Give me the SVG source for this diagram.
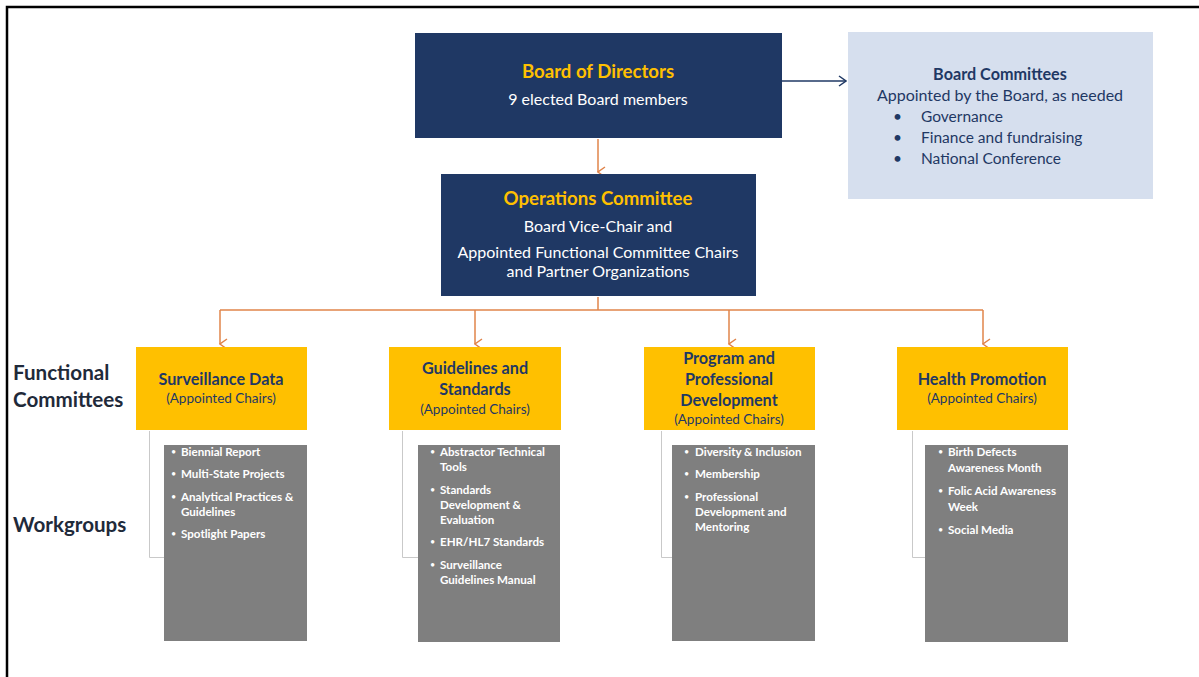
<svg xmlns="http://www.w3.org/2000/svg" width="1199" height="677" viewBox="0 0 1199 677">
<style>
.navy{fill:#1F3864}
.yel{fill:#FFC000}
.gray{fill:#7F7F7F}
.t{font-family:Lato,"Open Sans","Liberation Sans",sans-serif}
.ttl{font-weight:bold;fill:#FFC000;text-anchor:middle}
.wht{fill:#FFFFFF;text-anchor:middle}
.nv{fill:#1F3864}
.cb{font-weight:bold;fill:#1F3864;text-anchor:middle;font-size:16.2px}
.ap{fill:#1F3864;text-anchor:middle;font-size:16px}
.ac{fill:#1F3864;text-anchor:middle;font-size:13.5px}
.wg{fill:#FFFFFF;font-weight:bold;font-size:11.6px}
.bu{font-size:9px;font-weight:normal}
.side{fill:#1F2A3A;font-weight:bold;font-size:20.6px}
.or{stroke:#E0844A;stroke-width:1.5;fill:none}
.br{stroke:#C9C9C9;stroke-width:1;fill:none}
</style>
<defs>
<marker id="ao" markerWidth="12" markerHeight="10" refX="6" refY="9" orient="auto" markerUnits="userSpaceOnUse" viewBox="0 0 12 10">
<path d="M1,2 L6,9 L11,2" fill="none" stroke="#E0844A" stroke-width="1.5"/>
</marker>
<marker id="an" markerWidth="10" markerHeight="12" refX="9" refY="6" orient="auto" markerUnits="userSpaceOnUse" viewBox="0 0 10 12">
<path d="M2,1 L9,6 L2,11" fill="none" stroke="#1F3864" stroke-width="1.5"/>
</marker>
</defs>
<rect width="1199" height="677" fill="#FFFFFF"/>
<path d="M7,677 V7 H1199" fill="none" stroke="#000" stroke-width="2.5"/>

<g id="connectors">
<line class="or" x1="598" y1="139" x2="598" y2="172" marker-end="url(#ao)"/>
<line x1="782" y1="81" x2="846" y2="81" stroke="#1F3864" stroke-width="1.5" marker-end="url(#an)"/>
<line class="or" x1="598" y1="297" x2="598" y2="310"/>
<line class="or" x1="220" y1="310" x2="983" y2="310"/>
<line class="or" x1="220" y1="310" x2="220" y2="344" marker-end="url(#ao)"/>
<line class="or" x1="475" y1="310" x2="475" y2="344" marker-end="url(#ao)"/>
<line class="or" x1="729" y1="310" x2="729" y2="344" marker-end="url(#ao)"/>
<line class="or" x1="983" y1="310" x2="983" y2="344" marker-end="url(#ao)"/>
<path class="br" d="M149.5,431 V557.5 H164"/>
<path class="br" d="M402.5,431 V557.5 H418"/>
<path class="br" d="M661.5,431 V557.5 H672"/>
<path class="br" d="M912.5,431 V557.5 H925"/>
</g>

<g id="board" class="t">
<rect class="navy" x="415" y="33" width="367" height="105"/>
<text class="ttl" x="598" y="78" font-size="18.6">Board of Directors</text>
<text class="wht" x="598" y="105" font-size="16">9 elected Board members</text>
</g>

<g id="board-committees" class="t">
<rect x="848" y="32" width="305" height="167" fill="#D6DFEE"/>
<text class="cb" x="1000" y="80">Board Committees</text>
<text class="ap" x="1000" y="101">Appointed by the Board, as needed</text>
<text class="nv" font-size="15.5"><tspan x="893" y="122">•</tspan><tspan x="921" y="122">Governance</tspan><tspan x="893" y="143">•</tspan><tspan x="921" y="143">Finance and fundraising</tspan><tspan x="893" y="164">•</tspan><tspan x="921" y="164">National Conference</tspan></text>
</g>

<g id="operations" class="t">
<rect class="navy" x="441" y="174" width="315" height="122"/>
<text class="ttl" x="598" y="205" font-size="18.6">Operations Committee</text>
<text class="wht" x="598" y="232" font-size="16">Board Vice-Chair and</text>
<text class="wht" x="598" y="258" font-size="16">Appointed Functional Committee Chairs</text>
<text class="wht" x="598" y="277" font-size="16">and Partner Organizations</text>
</g>

<g id="labels" class="t">
<text class="side" x="13" y="380">Functional</text>
<text class="side" x="13" y="407">Committees</text>
<text class="side" x="13" y="532">Workgroups</text>
</g>

<g id="surveillance" class="t">
<rect class="yel" x="136" y="347" width="171" height="83"/>
<text class="cb" x="221" y="385">Surveillance Data</text>
<text class="ac" x="221" y="403">(Appointed Chairs)</text>
<rect class="gray" x="164" y="445" width="143" height="196"/>
<text class="wg"><tspan class="bu" x="171" y="455">•</tspan><tspan x="181" y="456">Biennial Report</tspan><tspan class="bu" x="171" y="477">•</tspan><tspan x="181" y="478">Multi-State Projects</tspan><tspan class="bu" x="171" y="500">•</tspan><tspan x="181" y="501">Analytical Practices &amp;</tspan><tspan x="181" y="516">Guidelines</tspan><tspan class="bu" x="171" y="537">•</tspan><tspan x="181" y="538">Spotlight Papers</tspan></text>
</g>

<g id="guidelines" class="t">
<rect class="yel" x="389" y="347" width="172" height="83"/>
<text class="cb" x="475" y="374">Guidelines and</text>
<text class="cb" x="475" y="395">Standards</text>
<text class="ac" x="475" y="414">(Appointed Chairs)</text>
<rect class="gray" x="418" y="445" width="142" height="197"/>
<text class="wg"><tspan class="bu" x="430" y="455">•</tspan><tspan x="440" y="456">Abstractor Technical</tspan><tspan x="440" y="471">Tools</tspan><tspan class="bu" x="430" y="493">•</tspan><tspan x="440" y="494">Standards</tspan><tspan x="440" y="509">Development &amp;</tspan><tspan x="440" y="524">Evaluation</tspan><tspan class="bu" x="430" y="545">•</tspan><tspan x="440" y="546">EHR/HL7 Standards</tspan><tspan class="bu" x="430" y="568">•</tspan><tspan x="440" y="569">Surveillance</tspan><tspan x="440" y="584">Guidelines Manual</tspan></text>
</g>

<g id="program" class="t">
<rect class="yel" x="644" y="347" width="171" height="83"/>
<text class="cb" x="729" y="364">Program and</text>
<text class="cb" x="729" y="385">Professional</text>
<text class="cb" x="729" y="406">Development</text>
<text class="ac" x="729" y="424">(Appointed Chairs)</text>
<rect class="gray" x="672" y="445" width="143" height="196"/>
<text class="wg"><tspan class="bu" x="684" y="455">•</tspan><tspan x="695" y="456">Diversity &amp; Inclusion</tspan><tspan class="bu" x="684" y="477">•</tspan><tspan x="695" y="478">Membership</tspan><tspan class="bu" x="684" y="500">•</tspan><tspan x="695" y="501">Professional</tspan><tspan x="695" y="516">Development and</tspan><tspan x="695" y="531">Mentoring</tspan></text>
</g>

<g id="health" class="t">
<rect class="yel" x="897" y="347" width="171" height="83"/>
<text class="cb" x="982" y="385">Health Promotion</text>
<text class="ac" x="982" y="403">(Appointed Chairs)</text>
<rect class="gray" x="925" y="445" width="143" height="197"/>
<text class="wg"><tspan class="bu" x="938" y="455">•</tspan><tspan x="948" y="456">Birth Defects</tspan><tspan x="948" y="472">Awareness Month</tspan><tspan class="bu" x="938" y="494">•</tspan><tspan x="948" y="495">Folic Acid Awareness</tspan><tspan x="948" y="511">Week</tspan><tspan class="bu" x="938" y="533">•</tspan><tspan x="948" y="534">Social Media</tspan></text>
</g>
</svg>
